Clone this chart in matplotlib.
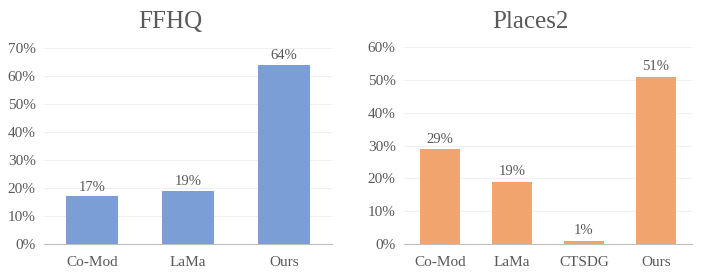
import matplotlib.pyplot as plt

plt.rcParams['font.family'] = ['Liberation Serif', 'DejaVu Serif']

ffhq_methods = ['Co-Mod', 'LaMa', 'Ours']
ffhq_values = [17, 19, 64]
places_methods = ['Co-Mod', 'LaMa', 'CTSDG', 'Ours']
places_values = [29, 19, 1, 51]

text_color = '#595959'
fig = plt.figure(figsize=(7.06, 2.76), dpi=100)

W, H = 706, 276


def draw(ax, methods, values, color, ymax):
    x = range(len(methods))
    bars = ax.bar(x, values, width=0.55, color=color, zorder=3)
    ax.set_xlim(-0.5, len(methods) - 0.5)
    ax.set_ylim(0, ymax)
    ax.set_yticks(range(0, ymax + 1, 10))
    ax.set_yticklabels(['{}%'.format(v) for v in range(0, ymax + 1, 10)])
    ax.set_xticks(list(x))
    ax.set_xticklabels(methods)
    ax.tick_params(length=0, labelsize=11, labelcolor=text_color, pad=6)
    ax.tick_params(axis='x', pad=9)
    ax.yaxis.grid(True, color='#F0F0F0', linewidth=0.8, zorder=0)
    for s in ['top', 'right', 'left']:
        ax.spines[s].set_visible(False)
    ax.spines['bottom'].set_color('#BFBFBF')
    for b, v in zip(bars, values):
        ax.text(b.get_x() + b.get_width() / 2, v + 1, '{}%'.format(v),
                ha='center', va='bottom', fontsize=10.5, color=text_color)


# axes positions in pixels
ax1 = fig.add_axes([44 / W, 1 - 244 / H, 288 / W, 196 / H])
draw(ax1, ffhq_methods, ffhq_values, '#7B9ED6', 70)
ax2 = fig.add_axes([404 / W, 1 - 244 / H, 288 / W, 197 / H])
draw(ax2, places_methods, places_values, '#F1A46D', 60)

fig.text(170 / W, 1 - 22 / H, 'FFHQ', ha='center', va='center', fontsize=18, color=text_color)
fig.text(530 / W, 1 - 22 / H, 'Places2', ha='center', va='center', fontsize=18, color=text_color)

fig.savefig('out.png', dpi=100)
